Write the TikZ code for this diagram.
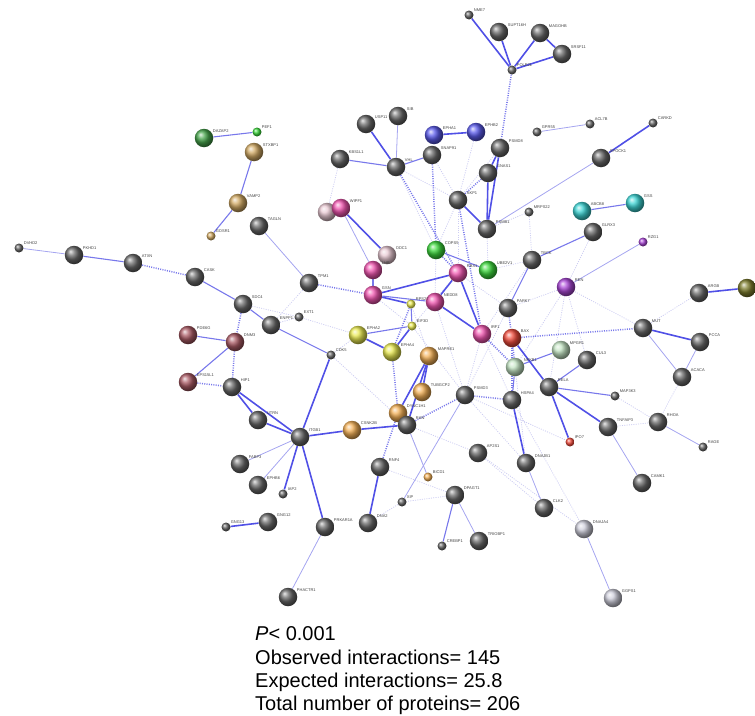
\documentclass[tikz,border=0pt]{standalone}
\usepackage{fontspec}
\setmainfont{Liberation Sans}
\pgfdeclarelayer{bg}
\pgfsetlayers{bg,main}
\definecolor{cgy}{RGB}{105,105,105}
\definecolor{cpk}{RGB}{240,85,175}
\definecolor{cppk}{RGB}{232,200,210}
\definecolor{cgn}{RGB}{60,215,60}
\definecolor{cdg}{RGB}{70,165,75}
\definecolor{ctn}{RGB}{210,170,100}
\definecolor{cor}{RGB}{242,175,85}
\definecolor{cyl}{RGB}{232,232,80}
\definecolor{cbl}{RGB}{90,90,235}
\definecolor{ctl}{RGB}{60,212,212}
\definecolor{cpu}{RGB}{170,70,215}
\definecolor{cbr}{RGB}{170,90,100}
\definecolor{crd}{RGB}{240,75,60}
\definecolor{cpg}{RGB}{195,228,195}
\definecolor{cpgy}{RGB}{205,205,218}
\definecolor{col}{RGB}{125,125,45}
\definecolor{ethick}{RGB}{80,80,230}
\definecolor{emed}{RGB}{120,120,235}
\definecolor{ethin}{RGB}{165,165,240}
\definecolor{efaint}{RGB}{205,205,242}
\tikzset{
 big/.style={circle,inner sep=0pt,minimum size=18.5pt},
 sm/.style={circle,inner sep=0pt,minimum size=9pt},
 gy/.style={shading=ball,ball color=cgy},
 pk/.style={shading=ball,ball color=cpk},
 ppk/.style={shading=ball,ball color=cppk},
 gn/.style={shading=ball,ball color=cgn},
 dg/.style={shading=ball,ball color=cdg},
 tn/.style={shading=ball,ball color=ctn},
 orr/.style={shading=ball,ball color=cor},
 yl/.style={shading=ball,ball color=cyl},
 bl/.style={shading=ball,ball color=cbl},
 tl/.style={shading=ball,ball color=ctl},
 pu/.style={shading=ball,ball color=cpu},
 br/.style={shading=ball,ball color=cbr},
 rd/.style={shading=ball,ball color=crd},
 pg/.style={shading=ball,ball color=cpg},
 pgy/.style={shading=ball,ball color=cpgy},
 ol/.style={shading=ball,ball color=col},
 lab/.style={font=\fontsize{4}{4}\selectfont,text=black!75,inner sep=0.6pt},
 th/.style={draw=ethick,line width=1.6pt},
 md/.style={draw=emed,line width=1.1pt},
 tn1/.style={draw=ethin,line width=0.8pt},
 dt/.style={draw=emed,line width=1.5pt,dash pattern=on 1pt off 1.3pt},
 fd/.style={draw=efaint,line width=0.8pt,dash pattern=on 1pt off 1.3pt},
 txt/.style={font=\fontsize{20}{20}\selectfont,anchor=base west,inner sep=0pt}
}
\newcommand\protnode[6]{\node[#4,#5,label={[lab]30:#6}] (#1) at (#2,#3) {};}
\begin{document}
\begin{tikzpicture}[x=1pt,y=-1pt]
\useasboundingbox (0,0) rectangle (755,715);
% top cluster
\protnode{NME7}{469}{15}{sm}{gy}{NME7}
\protnode{SUPT}{499}{32}{big}{gy}{SUPT16H}
\protnode{MAGOH}{540}{33}{big}{gy}{MAGOHB}
\protnode{SRSF11}{562}{54}{big}{gy}{SRSF11}
\protnode{POLR2L}{512}{70}{sm}{gy}{POLR2L}
\protnode{GPR55}{537}{132}{sm}{gy}{GPR55}
\protnode{ACL7B}{590}{124}{sm}{gy}{ACL7B}
\protnode{CARKD}{653}{123}{sm}{gy}{CARKD}
\protnode{SPOCK}{601}{158}{big}{gy}{SPOCK1}
\protnode{PSMD8}{500}{148}{big}{gy}{PSMD8}
\protnode{GNAS}{488}{173}{big}{gy}{GNAS1}
\protnode{USP11}{366}{124}{big}{gy}{USP11}
\protnode{SIB}{398}{116}{big}{gy}{SIB}
\protnode{KBS}{340}{159}{big}{gy}{KBS1L1}
\protnode{VHL}{396}{167}{big}{gy}{VHL}
\protnode{SNAP}{432}{155}{big}{gy}{SNAP91}
\protnode{EPHA1}{434}{135}{big}{bl}{EPHA1}
\protnode{EPHB2}{476}{132}{big}{bl}{EPHB2}
% center
\protnode{SKP1}{458}{200}{big}{gy}{SKP1}
\protnode{PSMB1}{487}{229}{big}{gy}{PSMB1}
\protnode{COPS5}{436}{250}{big}{gn}{COPS5}
\protnode{UBE2V1}{488}{270}{big}{gn}{UBE2V1}
\protnode{RBX1}{458}{273}{big}{pk}{RBX1}
\protnode{NEDD8}{435}{302}{big}{pk}{NEDD8}
\protnode{IRF1}{482}{334}{big}{pk}{IRF1}
\protnode{WIPF2}{327}{212}{big}{ppk}{}
\protnode{WIPF1}{341}{208}{big}{pk}{WIPF1}
\protnode{ODC1}{387}{255}{big}{ppk}{ODC1}
\protnode{TUVB}{373}{270}{big}{pk}{LHB}
\protnode{GSN}{373}{295}{big}{pk}{GSN}
\protnode{RPS27}{411}{304}{sm}{yl}{RPS27}
\protnode{EIF3D}{412}{326}{sm}{yl}{EIF3D}
\protnode{EPHA2}{358}{335}{big}{yl}{EPHA2}
\protnode{EPHA4}{392}{352}{big}{yl}{EPHA4}
\protnode{MAPRE1}{429}{356}{big}{orr}{MAPRE1}
\protnode{TUBGCP2}{422}{392}{big}{orr}{TUBGCP2}
\protnode{DYNC1H1}{398}{413}{big}{orr}{DYNC1H1}
\protnode{CSNK2B}{352}{430}{big}{orr}{CSNK2B}
\protnode{RAN}{407}{425}{big}{gy}{RAN}
\protnode{CDK5}{331}{355}{sm}{gy}{CDK5}
\protnode{PSMD3}{465}{395}{big}{gy}{PSMD3}
\protnode{RNF4}{380}{467}{big}{gy}{RNF4}
\protnode{BICD1}{428}{477}{sm}{orr}{BICD1}
\protnode{XIP}{402}{502}{sm}{gy}{XIP}
\protnode{DPAGT1}{455}{495}{big}{gy}{DPAGT1}
\protnode{CREBP1}{442}{546}{sm}{gy}{CREBP1}
\protnode{TRIOBP1}{479}{541}{big}{gy}{TRIOBP1}
\protnode{AP2S1}{478}{453}{big}{gy}{AP2S1}
% right
\protnode{MRPS22}{529}{212}{sm}{gy}{MRPS22}
\protnode{ABCB8}{582}{211}{big}{tl}{ABCB8}
\protnode{GSS}{635}{203}{big}{tl}{GSS}
\protnode{GLRX3}{593}{232}{big}{gy}{GLRX3}
\protnode{TBCK}{532}{260}{big}{gy}{TBCK}
\protnode{RZG1}{643}{242}{sm}{pu}{RZG1}
\protnode{REN}{566}{287}{big}{pu}{REN}
\protnode{PARK7}{508}{308}{big}{gy}{PARK7}
\protnode{BAX}{512}{338}{big}{rd}{BAX}
\protnode{MPGR1}{561}{350}{big}{pg}{MPGR1}
\protnode{NFKB1}{515}{367}{big}{pg}{NFKB1}
\protnode{CUL3}{587}{360}{big}{gy}{CUL3}
\protnode{RELA}{549}{387}{big}{gy}{RELA}
\protnode{HSPA4}{512}{400}{big}{gy}{HSPA4}
\protnode{MAP3K3}{615}{396}{sm}{gy}{MAP3K3}
\protnode{TNFAIP3}{608}{427}{big}{gy}{TNFAIP3}
\protnode{RHOA}{658}{422}{big}{gy}{RHOA}
\protnode{RAGE}{703}{447}{sm}{gy}{RAGE}
\protnode{IPO7}{570}{442}{sm}{rd}{IPO7}
\protnode{DNAJB1}{526}{463}{big}{gy}{DNAJB1}
\protnode{CLK2}{544}{508}{big}{gy}{CLK2}
\protnode{CAMK1}{642}{483}{big}{gy}{CAMK1}
\protnode{DNAJA4}{584}{529}{big}{pgy}{DNAJA4}
\protnode{GGPS1}{613}{598}{big}{pgy}{GGPS1}
\protnode{ARGB}{699}{293}{big}{gy}{ARGB}
\protnode{OLV}{747}{288}{big}{ol}{}
\protnode{MUT}{643}{328}{big}{gy}{MUT}
\protnode{PCCA}{700}{342}{big}{gy}{PCCA}
\protnode{ACACA}{682}{377}{big}{gy}{ACACA}
% left
\protnode{DVHD2}{19}{248}{sm}{gy}{DVHD2}
\protnode{PKHD1}{74}{255}{big}{gy}{PKHD1}
\protnode{ATXN}{133}{263}{big}{gy}{ATXN}
\protnode{CASK}{195}{277}{big}{gy}{CASK}
\protnode{DAZAP2}{204}{138}{big}{dg}{DAZAP2}
\protnode{PEF1}{257}{132}{sm}{gn}{PEF1}
\protnode{STXBP1}{254}{152}{big}{tn}{STXBP1}
\protnode{VAMP2}{238}{203}{big}{tn}{VAMP2}
\protnode{GOSR1}{211}{236}{sm}{tn}{GOSR1}
\protnode{TAGLN}{259}{226}{big}{gy}{TAGLN}
\protnode{TPM1}{309}{283}{big}{gy}{TPM1}
\protnode{SDC4}{243}{304}{big}{gy}{SDC4}
\protnode{PDE6G}{188}{335}{big}{br}{PDE6G}
\protnode{DNM3}{235}{342}{big}{br}{DNM3}
\protnode{EPS15L1}{188}{382}{big}{br}{EPS15L1}
\protnode{HIP1}{232}{387}{big}{gy}{HIP1}
\protnode{ENPP1}{271}{325}{big}{gy}{ENPP1}
\protnode{EXT1}{299}{317}{sm}{gy}{EXT1}
\protnode{UTRN}{258}{420}{big}{gy}{UTRN}
\protnode{ITGB1}{300}{437}{big}{gy}{ITGB1}
\protnode{FABP3}{240}{464}{big}{gy}{FABP3}
\protnode{EPHB6}{258}{485}{big}{gy}{EPHB6}
\protnode{IAP2}{283}{494}{sm}{gy}{IAP2}
\protnode{GNG12}{268}{522}{big}{gy}{GNG12}
\protnode{GNG13}{226}{527}{sm}{gy}{GNG13}
\protnode{PRKAR1A}{325}{527}{big}{gy}{PRKAR1A}
\protnode{DNA2}{368}{523}{big}{gy}{DNA2}
\protnode{PHACTR1}{288}{597}{big}{gy}{PHACTR1}
\begin{pgfonlayer}{bg}
% faint dotted background web
\foreach \a/\b in {SKP1/RBX1,COPS5/SKP1,VHL/COPS5,SNAP/SKP1,PSMB1/UBE2V1,RBX1/PARK7,IRF1/PSMD3,NEDD8/PSMD3,RPS27/MAPRE1,EIF3D/PSMD3,TBCK/UBE2V1,MRPS22/PSMB1,MRPS22/TBCK,REN/PARK7,REN/NFKB1,REN/RELA,ARGB/MUT,ACACA/RHOA,TNFAIP3/RHOA,MAP3K3/RHOA,HSPA4/DNAJA4,NFKB1/DNAJB1,PSMD3/DNAJB1,AP2S1/CLK2,DPAGT1/XIP,XIP/DNA2,RAN/AP2S1,RAN/BICD1,EXT1/EPHA2,ENPP1/EXT1,SDC4/EXT1,TPM1/ENPP1,KBS/WIPF2,VHL/SKP1,EPHB2/SKP1,PSMD8/SKP1,COPS5/NEDD8,RBX1/EIF3D,GSN/EIF3D,EPHA2/CDK5,CDK5/RAN,IRF1/HSPA4,PARK7/PSMD3,PSMD3/IPO7,AP2S1/DNAJA4,DPAGT1/RNF4,MUT/REN,CUL3/REN,GLRX3/REN,IRF1/TBCK}
  \path[fd] (\a) -- (\b);
% dotted
\foreach \a/\b in {ATXN/CASK,SDC4/DNM3,DNM3/HIP1,EPS15L1/HIP1,TPM1/GSN,RAN/PSMD3,DYNC1H1/RNF4,EPHA4/DYNC1H1,BAX/MUT,POLR2L/PSMD8,BAX/NFKB1,HSPA4/BAX,EPHA4/RPS27,IRF1/NFKB1,SKP1/GNAS,COPS5/RBX1,PSMD3/HSPA4,SNAP/COPS5,VHL/RBX1,SKP1/IRF1,PARK7/BAX}
  \path[dt] (\a) -- (\b);
% thin solid
\foreach \a/\b in {SIB/VHL,DVHD2/PKHD1,GPR55/ACL7B,RZG1/REN,TNFAIP3/CAMK1,DNAJB1/CLK2,DNAJA4/GGPS1,PRKAR1A/PHACTR1,ITGB1/FABP3,ITGB1/EPHB6,XIP/PSMD3,RAN/BICD1,SPOCK/PSMB1,TAGLN/TPM1,WIPF1/TUVB,DPAGT1/TRIOBP1,RHOA/RAGE,MUT/ACACA,PCCA/ACACA}
  \path[tn1] (\a) -- (\b);
% medium solid
\foreach \a/\b in {KBS/VHL,VHL/SNAP,STXBP1/VAMP2,VAMP2/GOSR1,DAZAP2/PEF1,PKHD1/ATXN,DNM3/PDE6G,DNM3/EPS15L1,ABCB8/GSS,GLRX3/TBCK,TBCK/PARK7,RELA/MAP3K3,RELA/CUL3,MPGR1/NFKB1,DPAGT1/CREBP1,COPS5/UBE2V1,CASK/SDC4,SDC4/ENPP1,ENPP1/CDK5,TUVB/GSN,EPHA2/EIF3D,RPS27/EIF3D,HSPA4/NFKB1,GSN/NEDD8}
  \path[md] (\a) -- (\b);
% thick solid
\foreach \a/\b in {USP11/VHL,EPHA1/EPHB2,SKP1/PSMB1,PSMD8/PSMB1,GNAS/PSMB1,PSMD8/GNAS,WIPF1/ODC1,RBX1/IRF1,NEDD8/IRF1,GSN/RBX1,GSN/RPS27,EPHA4/EPHA2,EPHA4/EIF3D,MAPRE1/DYNC1H1,TUBGCP2/MAPRE1,RAN/CSNK2B,ITGB1/CSNK2B,ITGB1/PRKAR1A,ITGB1/IAP2,ITGB1/UTRN,HIP1/ITGB1,HIP1/UTRN,CDK5/ITGB1,RNF4/DNA2,GNG12/GNG13,CARKD/SPOCK,POLR2L/SUPT,POLR2L/NME7,MAGOH/SRSF11,POLR2L/SRSF11,MAGOH/POLR2L,BAX/RELA,RELA/TNFAIP3,HSPA4/DNAJB1,RELA/IPO7,ARGB/OLV,MUT/PCCA,RAN/MAPRE1,NEDD8/RBX1}
  \path[th] (\a) -- (\b);
\end{pgfonlayer}
% statistics
\node[txt] (t1) at (255,640) {\textit{P}< 0.001};
\node[txt] (t2) at (255,664) {Observed interactions= 145};
\node[txt] (t3) at (255,687) {Expected interactions= 25.8};
\node[txt] (t4) at (255,710) {Total number of proteins= 206};
\end{tikzpicture}
\end{document}
